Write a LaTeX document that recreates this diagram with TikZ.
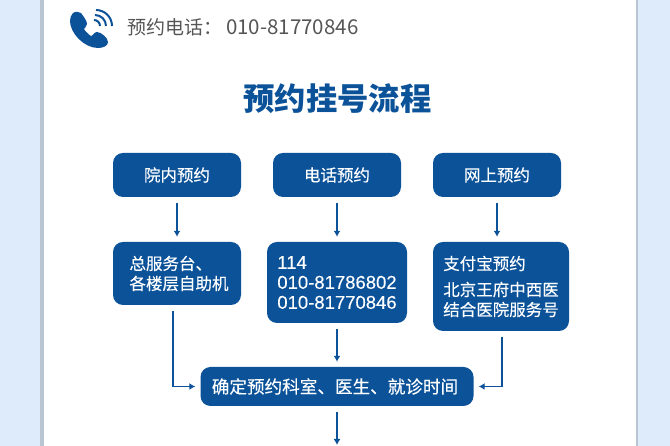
\documentclass[tikz,border=0pt]{standalone}
\usepackage{fontspec}
\setmainfont{Noto Sans CJK SC}
\newfontfamily\boxfont[FakeBold=0.25]{Noto Sans CJK SC}
\newfontfamily\numfont[FakeBold=0.1]{Liberation Sans}
\usetikzlibrary{arrows.meta}
\definecolor{boxblue}{HTML}{0B5299}
\definecolor{bandblue}{HTML}{DEEBFA}
\definecolor{bandgray}{HTML}{BAC5D3}
\definecolor{telgray}{HTML}{555555}
\tikzset{
  flowbox/.style={fill=boxblue,text=white,rounded corners=10pt,inner sep=0pt,align=left,
    font=\boxfont\fontsize{16.5}{20}\selectfont},
  conn/.style={-{Latex[length=6pt,width=7pt]},line width=1.5pt,draw=boxblue,
    shorten <=6pt,shorten >=5pt}
}
\begin{document}
\begin{tikzpicture}[x=1pt,y=1pt]
\useasboundingbox (0,0) rectangle (670,446);
% side bands
\fill[bandblue] (0,0) rectangle (41,446);
\fill[bandblue] (637,0) rectangle (670,446);
\fill[bandgray] (40,0) rectangle (44,446);
\fill[bandgray] (636,0) rectangle (638,446);
% phone icon
\fill[boxblue] (73,433) .. controls (76,435) and (79,434) .. (81,433)
  .. controls (84,429) and (87,425) .. (87,422)
  .. controls (87,419) and (84,418) .. (84,417)
  .. controls (85,415) and (89,411) .. (91,410)
  .. controls (93,410) and (94,414) .. (97,414)
  .. controls (101,414) and (108,408) .. (108,404)
  .. controls (108,400) and (103,398) .. (98,398)
  .. controls (84,398) and (70,413) .. (70,425)
  .. controls (70,428) and (71,431) .. (73,433) -- cycle;
\draw[boxblue,line width=2pt] (94,426) arc[start angle=90,end angle=0,radius=6];
\draw[boxblue,line width=2pt] (95,431) arc[start angle=90,end angle=0,radius=11];
\draw[boxblue,line width=2pt] (96,436) arc[start angle=90,end angle=0,radius=16];
% header
\node[anchor=west,text=telgray,inner sep=0pt,font=\fontsize{19}{22}\selectfont] (tel) at (127,419) {预约电话\symbol{"FF1A}\kern4pt{\fontsize{20.5}{22}\selectfont 010-81770846}};
\node[text=boxblue,inner sep=0pt,font=\fontsize{31.3}{36}\selectfont\bfseries] (title) at (337.5,347) {预约挂号流程};
% first row
\node[flowbox,minimum width=128pt,minimum height=44pt] (inhosp) at (177,271) {院内预约};
\node[flowbox,minimum width=128pt,minimum height=44pt] (phone) at (337,271) {电话预约};
\node[flowbox,minimum width=128pt,minimum height=44pt] (online) at (497,271) {网上预约};
% second row
\node[flowbox,minimum width=128pt,minimum height=63pt] (desk) at (177,172.5) {\hspace*{4pt}总服务台、\\\hspace*{4pt}各楼层自助机};
\node[flowbox,minimum width=140pt,minimum height=81pt,font=\numfont\fontsize{18.5}{20}\selectfont] (numbers) at (337,163.5)
  {114\\010-81786802\\010-81770846};
\node[flowbox,minimum width=136pt,minimum height=89pt] (alipay) at (501,159.5) {支付宝预约\\[6pt]北京王府中西医\\结合医院服务号};
% last row
\node[flowbox,minimum width=273pt,minimum height=39pt,font=\boxfont\fontsize{17.6}{20}\selectfont] (confirm) at (337,59.5) {\hspace*{-4pt}确定预约科室、医生、就诊时间};
\coordinate (next) at (337,-4);
% arrows
\draw[conn] (inhosp) -- (desk);
\draw[conn] (phone) -- (numbers);
\draw[conn] (online.south) -- (online.south |- alipay.north);
\draw[conn] ([xshift=-4pt]desk.south) |- (confirm.west);
\draw[conn] ([xshift=1pt]alipay.south) |- (confirm.east);
\draw[conn] (numbers) -- (confirm);
\draw[conn] (confirm) -- (next);
\end{tikzpicture}
\end{document}
